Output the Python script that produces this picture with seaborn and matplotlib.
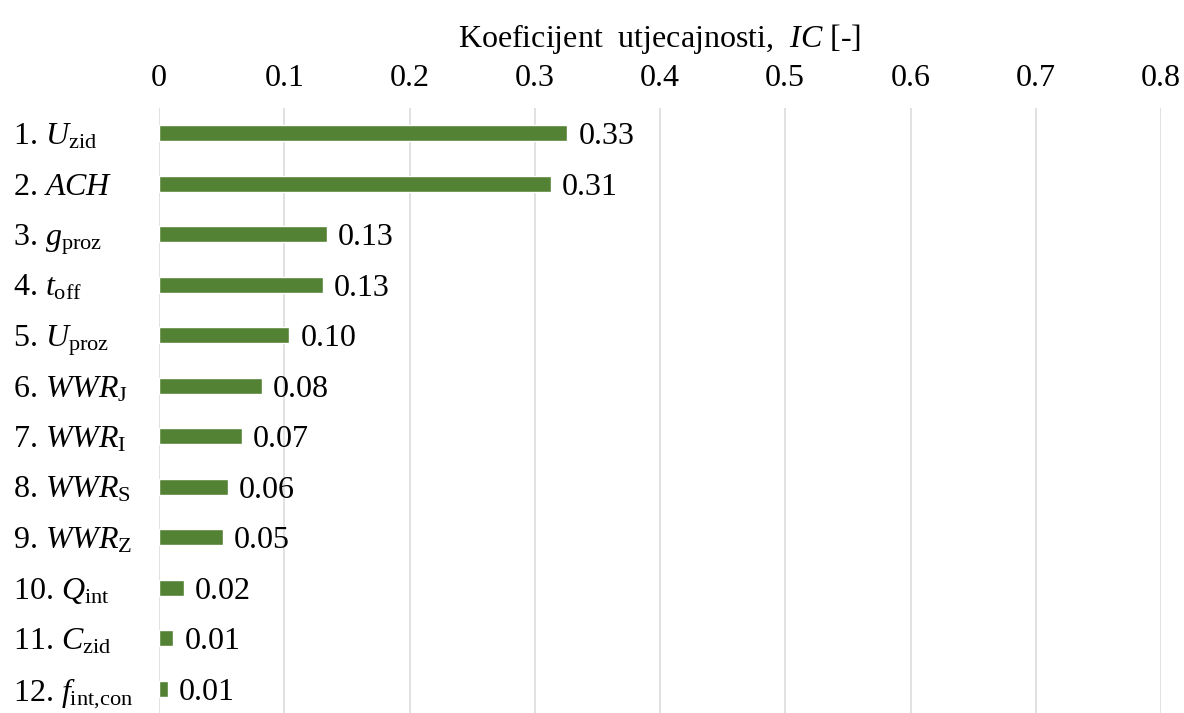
import pandas as pd
import matplotlib
matplotlib.use('Agg')
import matplotlib.pyplot as plt
import seaborn as sns

# Podaci: koeficijent utjecajnosti po parametru
parametri = ['1. $U_{\\mathrm{zid}}$', '2. $ACH$', '3. $g_{\\mathrm{proz}}$',
             '4. $t_{\\mathrm{off}}$', '5. $U_{\\mathrm{proz}}$', '6. $WWR_{\\mathrm{J}}$',
             '7. $WWR_{\\mathrm{I}}$', '8. $WWR_{\\mathrm{S}}$', '9. $WWR_{\\mathrm{Z}}$',
             '10. $Q_{\\mathrm{int}}$', '11. $C_{\\mathrm{zid}}$', '12. $f_{\\mathrm{int{,}con}}$']
ic = [0.326, 0.313, 0.134, 0.131, 0.104, 0.082, 0.066, 0.055, 0.051, 0.020, 0.0115, 0.0068]
oznake = ['0.33', '0.31', '0.13', '0.13', '0.10', '0.08', '0.07', '0.06', '0.05', '0.02', '0.01', '0.01']
x_ticks = [0, 0.1, 0.2, 0.3, 0.4, 0.5, 0.6, 0.7, 0.8]
x_tick_labels = ['0', '0.1', '0.2', '0.3', '0.4', '0.5', '0.6', '0.7', '0.8']

df = pd.DataFrame({'parametar': parametri, 'ic': ic})

sns.set_style('white')
plt.rcParams['font.family'] = ['Liberation Serif', 'DejaVu Serif']
plt.rcParams['mathtext.fontset'] = 'custom'
plt.rcParams['mathtext.rm'] = 'Liberation Serif'
plt.rcParams['mathtext.it'] = 'Liberation Serif:italic'
plt.rcParams['mathtext.bf'] = 'Liberation Serif:bold'
plt.rcParams['text.color'] = 'black'
plt.rcParams['xtick.color'] = 'black'
plt.rcParams['ytick.color'] = 'black'
plt.rcParams['axes.labelcolor'] = 'black'

fs = 23

fig = plt.figure(figsize=(11.84, 7.13), dpi=100)
ax = fig.add_axes([159 / 1184, -1 / 713, (1161 - 159) / 1184, (714 - 108) / 713])

sns.barplot(data=df, x='ic', y='parametar', orient='h', color='#548235',
            saturation=1, width=0.32, ax=ax)

# vrijednosti uz kraj stupca
for p, txt in zip(ax.containers[0], oznake):
    ax.annotate(txt, (p.get_width(), p.get_y() + p.get_height() / 2),
                xytext=(8, 0), textcoords='offset points',
                va='center_baseline', ha='left', fontsize=fs)

ax.set_xlim(0, 0.8)
ax.set_xticks(x_ticks)
ax.set_xticklabels(x_tick_labels, fontsize=fs)
ax.xaxis.tick_top()
ax.xaxis.set_label_position('top')
ax.set_xlabel('Koeficijent  utjecajnosti,  $IC$ [-]', fontsize=fs, labelpad=12)
ax.set_ylabel('')
ax.tick_params(axis='x', length=0, pad=11)
ax.tick_params(axis='y', length=0, pad=105, labelsize=fs)
for lbl in ax.get_yticklabels():
    lbl.set_horizontalalignment('left')

ax.grid(axis='x', color='#d9d9d9', linewidth=1.1)
ax.set_axisbelow(True)
sns.despine(ax=ax, left=True, bottom=True, top=True, right=True)

plt.savefig('out.png', dpi=100)
plt.close()
